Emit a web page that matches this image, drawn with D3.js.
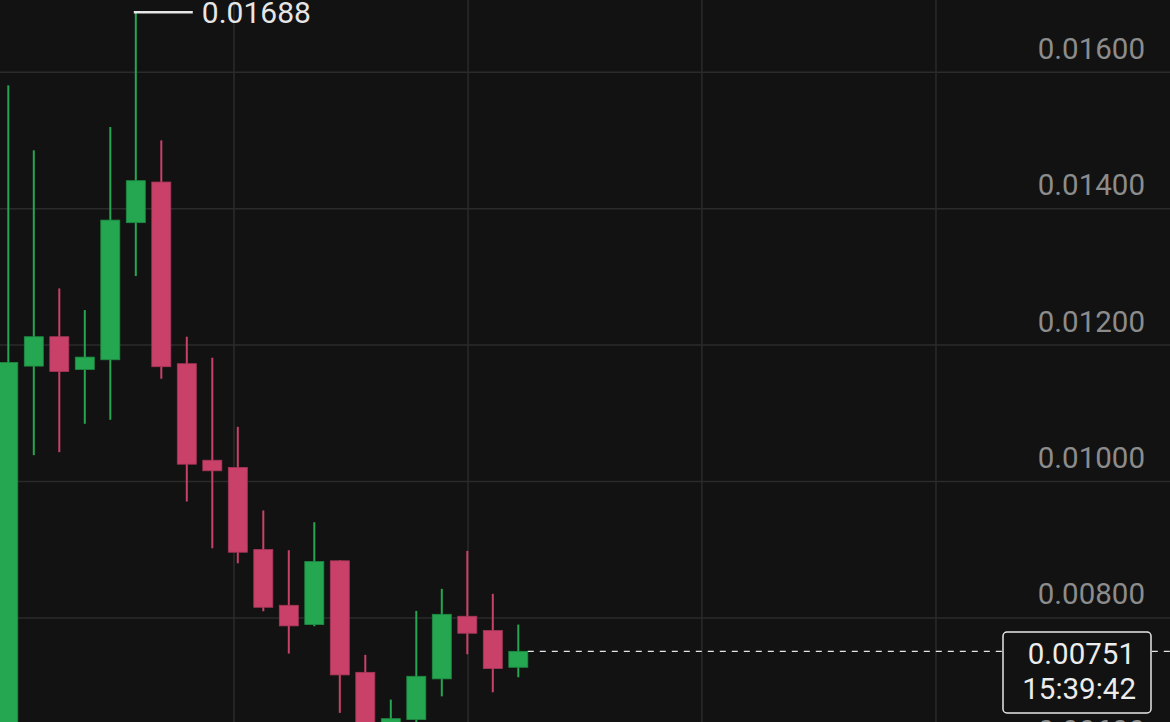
<!DOCTYPE html>
<html><head><meta charset="utf-8">
<script src="https://cdn.jsdelivr.net/npm/d3@7"></script>
<style>html,body{margin:0;padding:0;background:#121212;overflow:hidden}</style>
</head><body>
<svg id="c" width="1170" height="722"></svg>
<script>
const opens  = [0.00580,0.011692,0.012123,0.011643,0.011785,0.013795,0.014391,0.011727,0.010312,0.010205,0.009002,0.008185,0.007902,0.008837,0.007202,0.006300,0.006509,0.007106,0.008024,0.007814,0.007276];
const highs  = [0.015809,0.014856,0.012831,0.012513,0.015198,0.01688,0.015002,0.012123,0.011815,0.010802,0.009575,0.008992,0.009403,0.008845,0.007458,0.006802,0.008103,0.008426,0.008983,0.008353,0.007902];
const lows   = [0.00560,0.010386,0.010430,0.010846,0.010905,0.013012,0.011507,0.009707,0.009021,0.008801,0.008097,0.007477,0.007877,0.006607,0.006100,0.006200,0.006450,0.006850,0.007467,0.006909,0.007129];
const closes = [0.011746,0.012123,0.011614,0.011824,0.013833,0.014411,0.011683,0.010254,0.010157,0.008963,0.008156,0.007883,0.008826,0.007164,0.006300,0.006523,0.007144,0.008053,0.007775,0.007257,0.00751];
const priceTicks = [0.006,0.008,0.010,0.012,0.014,0.016];
const timeTicks = [8.85,18.03,27.2,36.38];
const highLabel = "0.01688";
const lastPrice = "0.00751";
const countdown = "15:39:42";

const W=1170,H=722;
const svg=d3.select("#c");
svg.append("rect").attr("width",W).attr("height",H).attr("fill","#121212");
const x=d3.scaleLinear().domain([0,20]).range([8.3,518.3]);
const y=d3.scaleLinear().domain([0.006,0.016]).range([754.3,72.3]);
const fmt=v=>v.toFixed(5);

// grid
svg.append("g").selectAll("line").data(priceTicks).join("line")
  .attr("x1",0).attr("x2",W).attr("y1",d=>y(d)).attr("y2",d=>y(d))
  .attr("stroke","#2b2b2b").attr("stroke-width",1.5);
svg.append("g").selectAll("line").data(timeTicks).join("line")
  .attr("y1",0).attr("y2",H).attr("x1",d=>x(d)).attr("x2",d=>x(d))
  .attr("stroke","#2b2b2b").attr("stroke-width",1.5);

// axis labels
const ax=d3.axisLeft(y).tickValues(priceTicks).tickFormat(fmt).tickSize(0).tickPadding(0);
const axG=svg.append("g").attr("transform","translate(1145,0)").call(ax);
axG.select(".domain").remove();
axG.selectAll("text").attr("fill","#8c8c8c").attr("font-family","Roboto").attr("font-size",29.5)
  .attr("dy",0).attr("y",-14).attr("text-anchor","end");

// candles
const data=opens.map((o,i)=>({i,o,h:highs[i],l:lows[i],c:closes[i]}));
const up="#25a650", upS="#1e8a42", dn="#c94169", dnS="#a8375a";
const g=svg.append("g");
g.selectAll("rect.w").data(data).join("rect").attr("class","w")
  .attr("x",d=>x(d.i)-1).attr("width",2)
  .attr("y",d=>y(d.h)).attr("height",d=>y(d.l)-y(d.h))
  .attr("fill",d=>d.c>=d.o?up:dn);
g.selectAll("rect.b").data(data).join("rect").attr("class","b")
  .attr("x",d=>x(d.i)-9.5).attr("width",19)
  .attr("y",d=>y(Math.max(d.o,d.c))).attr("height",d=>Math.max(1,Math.abs(y(d.o)-y(d.c))))
  .attr("fill",d=>d.c>=d.o?up:dn).attr("stroke",d=>d.c>=d.o?upS:dnS).attr("stroke-width",0.8);

// high marker
const hi=d3.maxIndex(highs);
const hy=y(highs[hi]);
svg.append("line").attr("x1",x(hi)-2).attr("x2",x(hi)+57).attr("y1",hy).attr("y2",hy)
  .attr("stroke","#e6e6e6").attr("stroke-width",2.5);
svg.append("text").attr("x",x(hi)+66).attr("y",hy+10.5).text(highLabel)
  .attr("fill","#e6e6e6").attr("font-family","Roboto").attr("font-size",30);

// last price line & box
const last=closes.length-1, py=y(closes[last]);
svg.append("line").attr("x1",x(last)+9.5).attr("x2",W).attr("y1",py).attr("y2",py)
  .attr("stroke","#e6e6e6").attr("stroke-width",1.3).attr("stroke-dasharray","6,6");
svg.append("rect").attr("x",1003).attr("y",632).attr("width",148).attr("height",81).attr("rx",4)
  .attr("fill","#121212").attr("stroke","#e6e6e6").attr("stroke-width",1.5);
svg.append("text").attr("x",1135).attr("y",663.5).attr("text-anchor","end").text(lastPrice)
  .attr("fill","#ececec").attr("font-family","Roboto").attr("font-size",29.5);
svg.append("text").attr("x",1136).attr("y",699).attr("text-anchor","end").text(countdown)
  .attr("fill","#ececec").attr("font-family","Roboto").attr("font-size",29.5);
</script>
</body></html>
